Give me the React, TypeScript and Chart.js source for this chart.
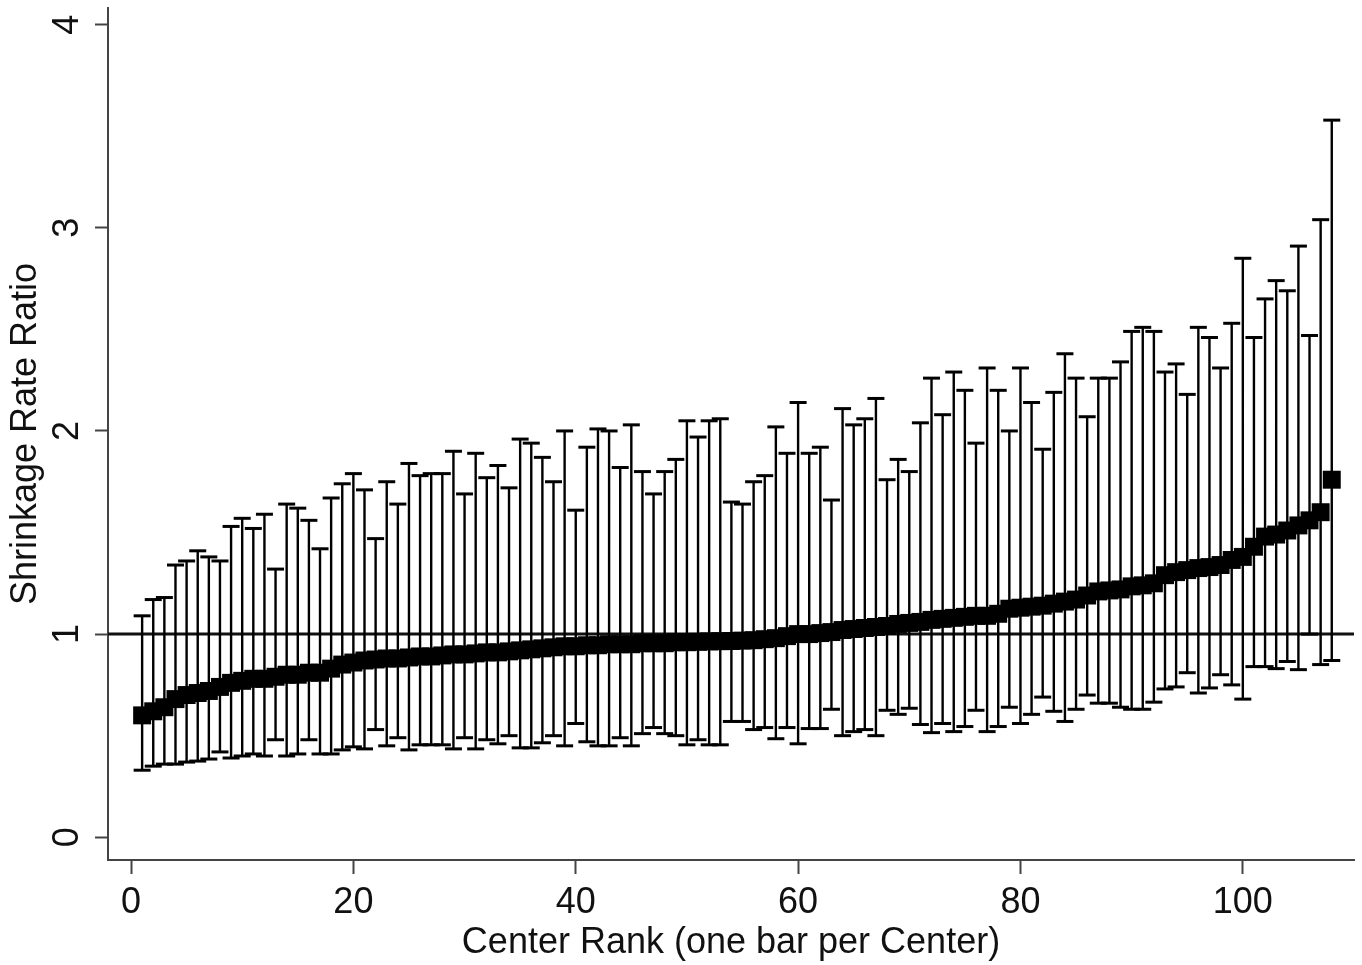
import { useEffect, useRef } from "react";
import { Chart, registerables } from "chart.js";

Chart.register(...registerables);

// Point estimate of the shrinkage rate ratio for each center, ordered by rank (rank = index + 1)
const ratio = [
  0.6, 0.62, 0.64, 0.68, 0.7, 0.71, 0.72, 0.74, 0.76, 0.77,
  0.78, 0.78, 0.79, 0.8, 0.8, 0.81, 0.81, 0.83, 0.85, 0.86,
  0.87, 0.875, 0.88, 0.88, 0.885, 0.89, 0.89, 0.895, 0.9, 0.9,
  0.905, 0.91, 0.91, 0.915, 0.92, 0.925, 0.93, 0.935, 0.94, 0.94,
  0.945, 0.945, 0.95, 0.95, 0.95, 0.955, 0.955, 0.955, 0.96, 0.96,
  0.962, 0.964, 0.965, 0.966, 0.968, 0.97, 0.975, 0.98, 0.99, 1.0,
  1.0, 1.005, 1.01, 1.02, 1.025, 1.03, 1.035, 1.04, 1.05, 1.055,
  1.06, 1.07, 1.075, 1.08, 1.085, 1.09, 1.09, 1.1, 1.125, 1.13,
  1.135, 1.14, 1.15, 1.16, 1.17, 1.19, 1.21, 1.215, 1.22, 1.235,
  1.24, 1.25, 1.29, 1.305, 1.315, 1.325, 1.33, 1.34, 1.365, 1.38,
  1.43, 1.48, 1.49, 1.51, 1.535, 1.56, 1.6, 1.76,
];

// Upper confidence limits
const upper = [
  1.09, 1.17, 1.18, 1.34, 1.36, 1.41, 1.38, 1.36, 1.53, 1.57,
  1.52, 1.59, 1.32, 1.64, 1.62, 1.56, 1.42, 1.67, 1.74, 1.79,
  1.71, 1.47, 1.75, 1.64, 1.84, 1.78, 1.79, 1.79, 1.9, 1.69,
  1.89, 1.77, 1.83, 1.72, 1.96, 1.94, 1.87, 1.75, 2.0, 1.61,
  1.92, 2.01, 2.0, 1.82, 2.03, 1.8, 1.69, 1.8, 1.86, 2.05,
  1.97, 2.05, 2.06, 1.65, 1.64, 1.75, 1.78, 2.02, 1.89, 2.14,
  1.89, 1.92, 1.66, 2.11, 2.03, 2.06, 2.16, 1.76, 1.86, 1.8,
  2.04, 2.26, 2.08, 2.29, 2.2, 1.94, 2.31, 2.2, 2.0, 2.31,
  2.14, 1.91, 2.19, 2.38, 2.26, 2.07, 2.26, 2.26, 2.34, 2.49,
  2.51, 2.49, 2.29, 2.33, 2.18, 2.51, 2.46, 2.31, 2.53, 2.85,
  2.46, 2.65, 2.74, 2.69, 2.91, 2.47, 3.04, 3.53,
];

// Lower confidence limits
const lower = [
  0.33, 0.35, 0.36, 0.36, 0.37, 0.375, 0.385, 0.42, 0.39, 0.4,
  0.41, 0.4, 0.48, 0.4, 0.41, 0.48, 0.41, 0.41, 0.43, 0.445,
  0.435, 0.53, 0.45, 0.49, 0.43, 0.455, 0.455, 0.455, 0.435, 0.49,
  0.435, 0.48, 0.46, 0.5, 0.44, 0.44, 0.465, 0.5, 0.45, 0.56,
  0.47, 0.45, 0.45, 0.49, 0.45, 0.51, 0.54, 0.51, 0.5, 0.455,
  0.48, 0.455, 0.455, 0.57, 0.57, 0.53, 0.54, 0.485, 0.54, 0.46,
  0.535, 0.535, 0.63, 0.5, 0.52, 0.53, 0.5, 0.625, 0.605, 0.635,
  0.555, 0.515, 0.56, 0.52, 0.545, 0.625, 0.52, 0.545, 0.64, 0.56,
  0.605, 0.69, 0.62, 0.57, 0.63, 0.7, 0.66, 0.66, 0.64, 0.63,
  0.63, 0.665, 0.73, 0.74, 0.81, 0.71, 0.735, 0.8, 0.75, 0.68,
  0.84, 0.84, 0.83, 0.865, 0.825, 1.0, 0.85, 0.87,
];

const xTicks = [0, 20, 40, 60, 80, 100];
const yTicks = [0, 1, 2, 3, 4];
const xRange = [-2.07, 110.0];
const yRange = [-0.112, 4.082];
const refValue = 1;

const xTitle = "Center Rank (one bar per Center)";
const yTitle = "Shrinkage Rate Ratio";

export default function App() {
  const canvasRef = useRef<HTMLCanvasElement | null>(null);

  useEffect(() => {
    const canvas = canvasRef.current;
    if (!canvas) return;
    const ranks = ratio.map((_, i) => i + 1);
    const stems: { x: number; y: number | null }[] = [];
    ranks.forEach((r, i) => {
      stems.push({ x: r, y: lower[i] }, { x: r, y: upper[i] }, { x: r, y: null });
    });
    const font = { family: "'Liberation Sans', Arial, Helvetica, sans-serif", size: 36 };
    const axisColor = "#444";

    const chart = new Chart(canvas, {
      type: "scatter",
      data: {
        datasets: [
          {
            label: "ratio",
            data: ranks.map((r, i) => ({ x: r, y: ratio[i] })),
            pointStyle: "rect",
            pointRadius: 12.7,
            pointBackgroundColor: "#000",
            pointBorderColor: "#000",
            pointBorderWidth: 0,
          },
          {
            label: "upper",
            data: ranks.map((r, i) => ({ x: r, y: upper[i] })),
            pointStyle: "line",
            pointRadius: 8.5,
            pointBorderColor: "#000",
            pointBorderWidth: 3,
          },
          {
            label: "lower",
            data: ranks.map((r, i) => ({ x: r, y: lower[i] })),
            pointStyle: "line",
            pointRadius: 8.5,
            pointBorderColor: "#000",
            pointBorderWidth: 3,
          },
          {
            label: "stems",
            data: stems,
            showLine: true,
            spanGaps: false,
            pointRadius: 0,
            borderColor: "#000",
            borderWidth: 2.4,
          },
          {
            label: "ref",
            data: [
              { x: xRange[0], y: refValue },
              { x: xRange[1], y: refValue },
            ],
            showLine: true,
            pointRadius: 0,
            borderColor: "#111",
            borderWidth: 3,
          },
        ],
      } as any,
      options: {
        animation: false,
        responsive: false,
        events: [],
        layout: { autoPadding: false, padding: { top: 8, right: 8, left: 0, bottom: 0 } },
        plugins: {
          legend: { display: false },
          tooltip: { enabled: false },
        },
        scales: {
          x: {
            type: "linear",
            min: xRange[0],
            max: xRange[1],
            afterBuildTicks: (s: any) => {
              s.ticks = xTicks.map((v) => ({ value: v }));
            },
            afterFit: (s: any) => {
              s.height = 105;
              s.paddingLeft = 0;
              s.paddingRight = 0;
              s.paddingTop = 0;
              s.paddingBottom = 0;
            },
            ticks: {
              font,
              color: "#111",
              padding: 7,
              maxRotation: 0,
              autoSkip: false,
            },
            grid: {
              drawOnChartArea: false,
              drawTicks: true,
              tickLength: 14,
              tickWidth: 2,
              tickColor: axisColor,
            },
            border: { display: true, color: axisColor, width: 2 },
            title: {
              display: true,
              text: xTitle,
              font,
              color: "#111",
              padding: { top: 0, bottom: 0 },
            },
          },
          y: {
            type: "linear",
            min: yRange[0],
            max: yRange[1],
            afterBuildTicks: (s: any) => {
              s.ticks = yTicks.map((v) => ({ value: v }));
            },
            afterFit: (s: any) => {
              s.width = 108;
              s.paddingLeft = 0;
              s.paddingRight = 0;
              s.paddingTop = 0;
              s.paddingBottom = 0;
            },
            ticks: {
              font,
              color: "#111",
              padding: 17,
              minRotation: 90,
              maxRotation: 90,
              crossAlign: "center",
              autoSkip: false,
            },
            grid: {
              drawOnChartArea: false,
              drawTicks: true,
              tickLength: 13,
              tickWidth: 2,
              tickColor: axisColor,
            },
            border: { display: true, color: axisColor, width: 2 },
            title: {
              display: true,
              text: yTitle,
              font,
              color: "#111",
              padding: { top: 4, bottom: 0 },
            },
          },
        },
      } as any,
    });

    return () => chart.destroy();
  }, []);

  return (
    <div style={{ position: "absolute", left: 0, top: 0, width: 1362, height: 965, background: "#fff" }}>
      <canvas ref={canvasRef} width={1362} height={965} style={{ display: "block" }} />
    </div>
  );
}
